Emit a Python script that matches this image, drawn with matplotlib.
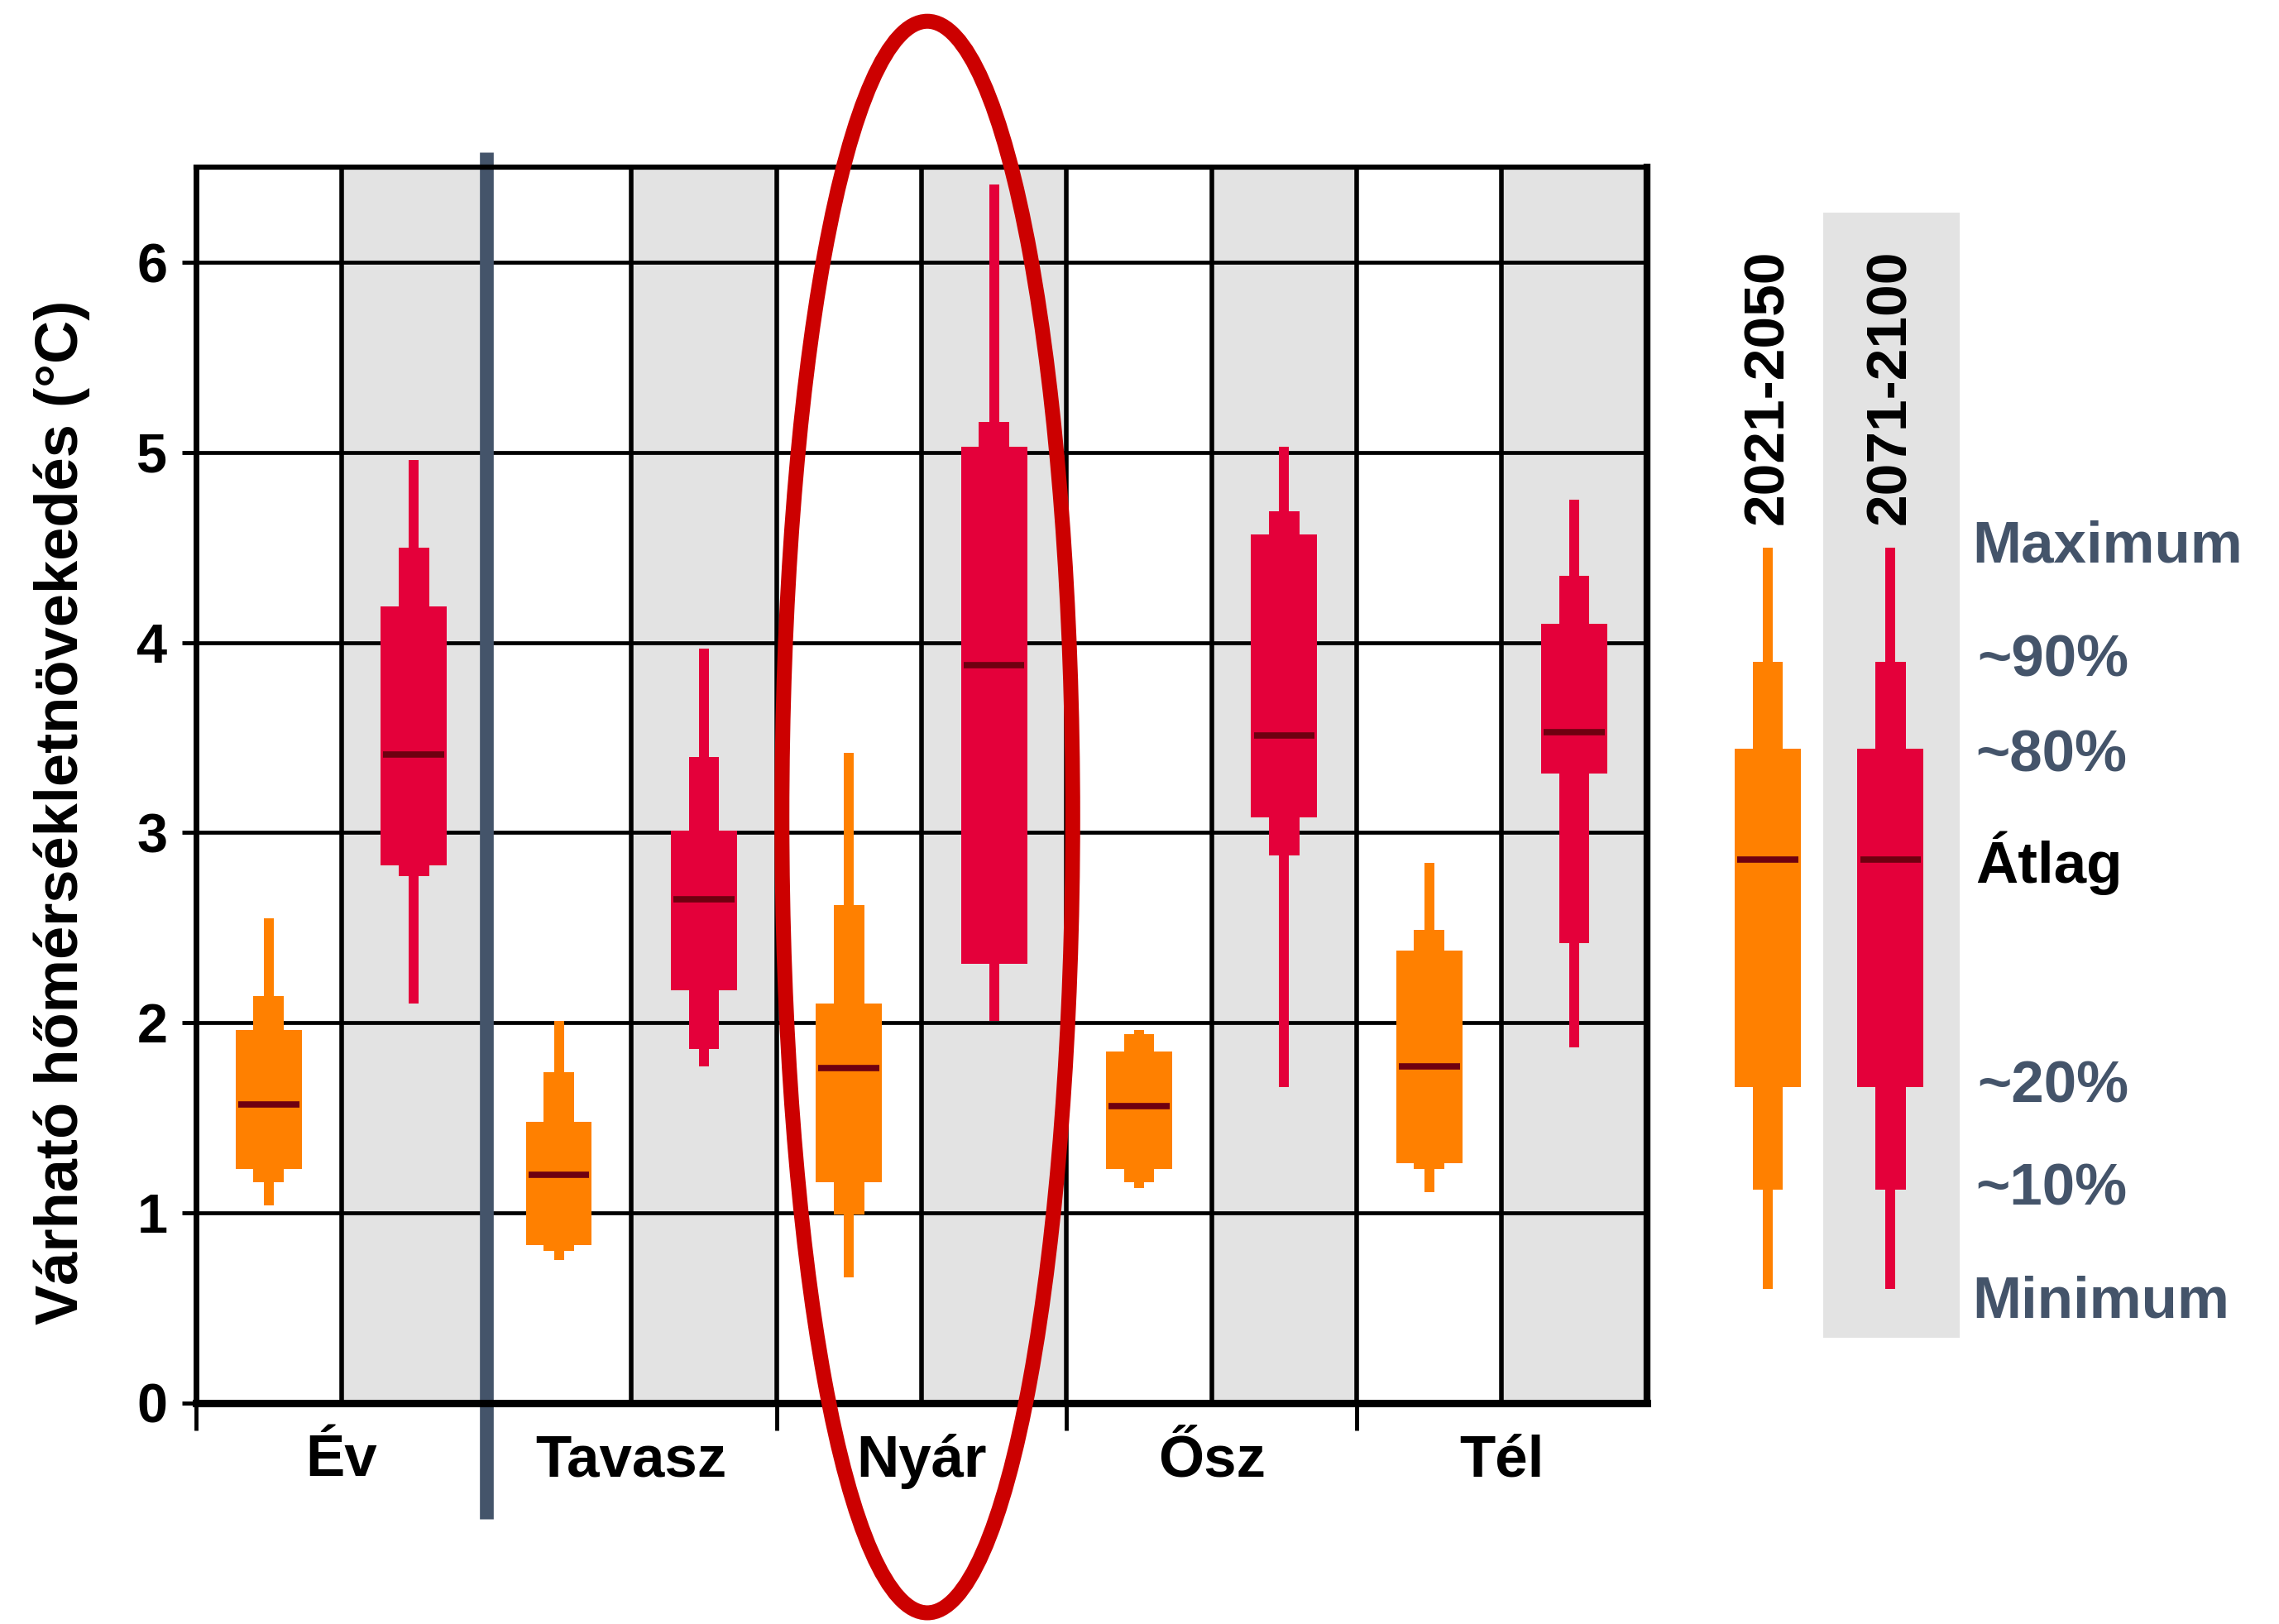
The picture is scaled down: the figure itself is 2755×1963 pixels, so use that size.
import matplotlib
matplotlib.use("Agg")
import matplotlib.pyplot as plt
from matplotlib.patches import Ellipse, Rectangle

plt.rcParams['font.family'] = ['Liberation Sans', 'DejaVu Sans']
plt.rcParams['font.weight'] = 'bold'

# adatok (leolvasva a kepbol)
evszakok = ['Év', 'Tavasz', 'Nyár', 'Ősz', 'Tél']

# 2021-2050
o_min = [1.04, 0.75, 0.66, 1.13, 1.11]
o_p10 = [1.16, 0.80, 0.99, 1.16, 1.23]
o_p20 = [1.23, 0.83, 1.16, 1.23, 1.26]
o_atl = [1.57, 1.20, 1.76, 1.56, 1.77]
o_p80 = [1.96, 1.48, 2.10, 1.85, 2.38]
o_p90 = [2.14, 1.74, 2.62, 1.94, 2.49]
o_max = [2.55, 2.01, 3.42, 1.96, 2.84]

# 2071-2100
r_min = [2.10, 1.77, 2.01, 1.66, 1.87]
r_p10 = [2.77, 1.86, 2.31, 2.88, 2.42]
r_p20 = [2.83, 2.17, 2.31, 3.08, 3.31]
r_atl = [3.41, 2.65, 3.88, 3.51, 3.53]
r_p80 = [4.19, 3.01, 5.03, 4.57, 4.10]
r_p90 = [4.50, 3.40, 5.16, 4.69, 4.35]
r_max = [4.96, 3.97, 6.41, 5.03, 4.75]

# jelmagyarazat
leg_vals = [0.60, 1.12, 1.66, 2.86, 3.44, 3.90, 4.50]
leg_periods = ['2021-2050', '2071-2100']
leg_labels = ['Minimum', '~10%', '~20%', 'Átlag', '~80%', '~90%', 'Maximum']

NARANCS = '#FF8000'
PIROS = '#E4003A'
SOTET = '#6E0010'
PALA = '#44546A'
SZURKE = '#E3E3E3'


def doboz(ax, x, mn, p10, p20, atl, p80, p90, mx, szin):
    ax.bar(x, mx - mn, bottom=mn, width=0.068, color=szin, zorder=4)
    ax.bar(x, p90 - p10, bottom=p10, width=0.21, color=szin, zorder=4)
    ax.bar(x, p80 - p20, bottom=p20, width=0.455, color=szin, zorder=4)
    ax.hlines(atl, x - 0.21, x + 0.21, color=SOTET, lw=5.5, zorder=5)


fig = plt.figure(figsize=(27.55, 19.63), dpi=100)
ax = fig.add_axes([0.0861, 0.1361, 0.6365, 0.7609])
ax.set_xlim(0, 10)
ax.set_ylim(0, 6.5)

for i in range(5):
    ax.axvspan(2 * i + 1, 2 * i + 2, color=SZURKE, zorder=0, lw=0)
for v in range(1, 10):
    ax.axvline(v, color='black', lw=4, zorder=1)
for h in range(1, 7):
    ax.axhline(h, color='black', lw=3.4, zorder=1)

for i in range(5):
    doboz(ax, 2 * i + 0.5, o_min[i], o_p10[i], o_p20[i], o_atl[i],
          o_p80[i], o_p90[i], o_max[i], NARANCS)
    doboz(ax, 2 * i + 1.5, r_min[i], r_p10[i], r_p20[i], r_atl[i],
          r_p80[i], r_p90[i], r_max[i], PIROS)

# elvalaszto vonal Ev es Tavasz kozott
ax.plot([2, 2], [-0.61, 6.58], color=PALA, lw=12, clip_on=False, zorder=6,
        solid_capstyle='butt')

ax.set_yticks(range(7))
ax.set_yticklabels([str(i) for i in range(7)], fontsize=48, fontweight='bold')
ax.tick_params(axis='y', length=12, width=3.5, pad=13)
ax.set_xticks([0, 2, 4, 6, 8])
ax.set_xticklabels([])
ax.set_xticks([1, 3, 5, 7, 9], minor=True)
ax.set_xticklabels(evszakok, minor=True, fontsize=51, fontweight='bold')
ax.tick_params(axis='x', which='major', length=24, width=3.5)
ax.tick_params(axis='x', which='minor', length=0, pad=27)

ax.spines['left'].set_linewidth(5)
ax.spines['right'].set_linewidth(6)
ax.spines['bottom'].set_linewidth(6.5)
ax.spines['top'].set_linewidth(4.5)
for s in ax.spines.values():
    s.set_zorder(7)

fig.text(0.027, 0.4996, 'Várható hőmérsékletnövekedés (°C)', rotation=90,
         ha='center', va='center', fontsize=52, fontweight='bold')

# jelmagyarazat tengely
lax = fig.add_axes([0.7438, 0.1361, 0.1275, 0.7609])
lax.set_xlim(0, 2)
lax.set_ylim(0, 6.5)
lax.axis('off')
lax.add_patch(Rectangle((0.88, 0.344), 0.94, 5.916, color=SZURKE, lw=0, zorder=0))
lv = leg_vals
for xc, szin, per in zip([0.5, 1.345], [NARANCS, PIROS], leg_periods):
    doboz(lax, xc, lv[0], lv[1], lv[2], lv[3], lv[4], lv[5], lv[6], szin)
    lax.text(xc, 4.62, per, rotation=90, ha='center', va='bottom',
             fontsize=50, fontweight='bold', color='black')

lab_y = [0.53, 1.12, 1.66, 2.84, 3.40, 3.90, 4.50]
lab_x = [1.91, 1.93, 1.94, 1.93, 1.93, 1.94, 1.91]
for lab, x, y in zip(leg_labels, lab_x, lab_y):
    szin = 'black' if lab == 'Átlag' else PALA
    bb = None
    if lab in ('Maximum', '~80%'):
        bb = dict(facecolor='white', edgecolor='none', pad=10)
    lax.text(x, y, lab, ha='left', va='center', fontsize=51,
             fontweight='bold', color=szin, clip_on=False, bbox=bb, zorder=3)

# piros ellipszis a Nyar korul
fig.add_artist(Ellipse((0.4069, 0.4969), 0.1276, 0.980, transform=fig.transFigure,
                       fill=False, edgecolor='#CC0000', lw=13, zorder=10))

fig.savefig('out.png', dpi=100)
